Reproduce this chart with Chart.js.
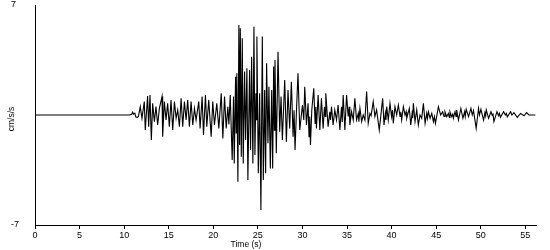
<!DOCTYPE html>
<html>
<head>
<meta charset="utf-8">
<script src="https://cdn.jsdelivr.net/npm/chart.js@4"></script>
<style>
  body { margin: 0; background: #fff; }
  #wrap { width: 550px; height: 250px; }
</style>
</head>
<body>
<div id="wrap"><canvas id="quake" width="550" height="250"></canvas></div>
<script>
// accelerogram (time in s, acceleration in cm/s/s)
const times = [
  0, 10.6, 10.85, 10.95, 11.05, 11.2, 11.3, 11.45, 11.6, 11.81, 12.0, 12.26, 12.37, 12.63, 12.75, 12.9,
  13.05, 13.2, 13.39, 13.57, 13.76, 13.95, 14.25, 14.32, 14.51, 14.7, 14.88, 15.07, 15.26, 15.45, 15.64, 15.83,
  16.01, 16.2, 16.39, 16.57, 16.76, 16.95, 17.13, 17.32, 17.51, 17.7, 17.89, 18.07, 18.37, 18.52, 18.75, 18.9,
  19.12, 19.27, 19.49, 19.76, 19.94, 20.13, 20.39, 20.62, 20.89, 21.07, 21.26, 21.45, 21.63, 21.75, 21.9, 22.12,
  22.27, 22.35, 22.5, 22.57, 22.64, 22.76, 22.87, 22.95, 23.03, 23.14, 23.25, 23.36, 23.51, 23.62, 23.77, 23.88,
  24.07, 24.18, 24.3, 24.44, 24.56, 24.67, 24.78, 24.84, 24.89, 25.05, 25.2, 25.34, 25.5, 25.61, 25.76, 25.87,
  25.98, 26.13, 26.24, 26.4, 26.55, 26.66, 26.77, 26.85, 26.92, 27.07, 27.26, 27.45, 27.6, 27.75, 28.01, 28.2,
  28.38, 28.57, 28.76, 28.95, 29.06, 29.17, 29.32, 29.5, 29.7, 30.0, 30.15, 30.26, 30.45, 30.63, 30.74, 30.82,
  30.9, 31.05, 31.27, 31.42, 31.5, 31.57, 31.76, 31.95, 32.13, 32.32, 32.47, 32.55, 32.62, 32.88, 33.07, 33.15,
  33.26, 33.44, 33.63, 33.82, 34.0, 34.2, 34.38, 34.46, 34.57, 34.76, 34.95, 35.13, 35.25, 35.32, 35.51, 35.7,
  35.88, 36.07, 36.26, 36.33, 36.45, 36.64, 36.82, 37.01, 37.2, 37.38, 37.57, 37.7, 37.94, 38.13, 38.32, 38.62,
  39.0, 39.15, 39.3, 39.37, 39.45, 39.63, 39.82, 40.0, 40.1, 40.19, 40.38, 40.57, 40.76, 40.95, 41.03, 41.13,
  41.32, 41.51, 41.63, 41.7, 41.99, 42.15, 42.3, 42.37, 42.44, 42.63, 42.82, 43.0, 43.19, 43.38, 43.57, 43.76,
  43.94, 44.02, 44.13, 44.32, 44.51, 44.69, 44.8, 44.92, 45.25, 45.5, 45.73, 45.88, 45.99, 46.18, 46.37, 46.48,
  46.55, 46.74, 46.86, 46.93, 47.12, 47.23, 47.3, 47.5, 47.77, 48.0, 48.19, 48.26, 48.37, 48.63, 48.9, 49.05,
  49.19, 49.49, 49.75, 49.86, 50.02, 50.32, 50.47, 50.55, 50.62, 50.88, 51.15, 51.3, 51.37, 51.48, 51.82, 52.0,
  52.1, 52.21, 52.57, 52.76, 52.87, 52.98, 53.35, 53.5, 53.72, 54.1, 54.47, 54.85, 55.14, 55.4, 56.13
];
const accel = [
  0, 0, 0.05, 0.18, 0.05, 0.12, -0.12, -0.15, -0.1, 0.53, -0.21, 0.85, -0.96, 1.21, -0.74, 1.27,
  -1.59, 0.74, -0.42, 0.53, -0.64, 0.42, 1.17, -1.38, 0.85, -0.32, 0.74, -0.74, 0.96, -0.96, 0.85, -0.21,
  0.32, -0.74, 1.06, -0.74, 0.85, -0.32, 0.96, -0.74, 0.85, -0.64, 0.42, -0.32, 0.85, -0.85, 1.17, -1.27,
  1.27, -0.74, 0.96, -1.38, 0.85, -0.64, 0.74, -0.85, 1.38, -1.49, 1.17, -0.85, 0.53, -0.6, 1.27, -2.87,
  1.17, -3.08, 2.44, -1.15, 2.66, -4.25, 5.73, -1.91, 5.52, -2.66, 4.88, -3.08, 2.76, -1.59, 2.97, -4.14,
  2.87, -2.23, 3.71, -3.08, 5.62, -2.55, 1.38, -0.3, 4.99, -3.71, 1.38, -6.05, 4.99, -4.14, 1.59, -3.71,
  3.29, -1.8, 1.8, -3.4, 1.59, -3.4, 3.08, -0.96, 3.5, -2.44, 4.03, -1.06, 1.17, -1.59, 2.23, -1.7,
  1.59, -0.85, 2.12, -1.38, 0.3, -2.23, 0.1, 2.66, -0.96, 0.64, -0.32, 1.8, -0.64, 0.74, -1.38, -0.1,
  -1.91, 0.32, 1.7, -0.53, 0.53, -0.85, 1.27, -0.96, 1.06, -0.85, 0.53, -0.1, 1.38, -0.74, 0.21, -0.32,
  0.53, -0.64, 0.32, -0.32, 0.64, -0.96, 0.53, -0.45, 1.27, -0.96, 1.27, -0.1, 0.53, -0.64, 0.21, -0.32,
  1.06, -0.32, 0.1, -0.42, 0.42, -0.42, 0, -0.32, 1.49, -0.53, 0.1, -0.05, 0.85, -0.1, 0.32, -0.96,
  1.06, -0.64, 0.1, -0.32, 0.53, -0.32, 0.74, -0.1, 0.32, -0.53, 0.53, 0, 0.64, -0.1, 0.21, -0.32,
  0.53, 0, 0.21, -0.21, 0.42, -0.64, 0.1, -0.2, 0.74, -0.42, 0.32, -0.64, 0, -0.21, 0.74, -0.53,
  0.1, -0.21, 0.21, -0.21, 0.1, -0.42, -0.1, -0.53, 0.53, 0, 0.2, -0.1, 0.21, -0.1, 0.1, -0.15,
  0.21, -0.1, 0.05, -0.21, 0.21, -0.1, 0.32, -0.32, 0.42, -0.21, 0.21, -0.1, 0.36, -0.1, 0.42, 0,
  0.28, -0.85, 0.42, 0, 0.36, -0.32, 0.15, -0.05, 0.32, -0.21, 0.21, -0.05, 0.1, -0.42, 0.21, -0.05,
  0.1, -0.15, 0.21, 0, 0.1, -0.12, 0.21, 0, 0.15, -0.15, 0.1, -0.05, 0.15, 0, 0
];
const xTicks = [0, 5, 10, 15, 20, 25, 30, 35, 40, 45, 50, 55];
const yTicks = [-7, 7];

const fontFamily = '"Liberation Sans", Arial, sans-serif';

// axis titles sit where the original put them, so draw them by hand
const axisTitles = {
  id: 'axisTitles',
  afterDraw(chart) {
    const ctx = chart.ctx;
    ctx.save();
    ctx.fillStyle = '#000';
    ctx.font = '8.5px ' + fontFamily;
    ctx.textAlign = 'center';
    ctx.textBaseline = 'middle';
    ctx.fillText('Time (s)', 246, 245);
    ctx.translate(12, 119);
    ctx.rotate(-Math.PI / 2);
    ctx.fillText('cm/s/s', 0, 0);
    ctx.restore();
  }
};

const points = times.map((t, i) => ({ x: t, y: accel[i] }));

new Chart(document.getElementById('quake'), {
  type: 'line',
  data: {
    datasets: [{
      data: points,
      borderColor: '#000',
      borderWidth: 1.1,
      pointRadius: 0,
      tension: 0,
      fill: false
    }]
  },
  options: {
    responsive: false,
    animation: false,
    layout: { padding: { left: 11, right: 14, top: 5, bottom: 0 } },
    plugins: {
      legend: { display: false },
      tooltip: { enabled: false }
    },
    scales: {
      x: {
        type: 'linear',
        min: 0,
        max: 56.2,
        afterBuildTicks: scale => { scale.ticks = xTicks.map(v => ({ value: v })); },
        afterFit: scale => { scale.height = 25; scale.paddingRight = 0; scale.paddingLeft = 0; },
        ticks: {
          color: '#000',
          font: { size: 9, family: fontFamily },
          maxRotation: 0,
          padding: 1
        },
        grid: { drawOnChartArea: false, color: '#000', tickLength: 4 },
        border: { display: true, color: '#000' }
      },
      y: {
        min: -7,
        max: 7,
        afterBuildTicks: scale => { scale.ticks = yTicks.map(v => ({ value: v })); },
        afterFit: scale => { scale.width = 24; scale.paddingTop = 0; scale.paddingBottom = 0; },
        ticks: {
          color: '#000',
          font: { size: 9, family: fontFamily },
          crossAlign: 'far'
        },
        grid: { display: false },
        border: { display: true, color: '#000' }
      }
    }
  },
  plugins: [axisTitles]
});
</script>
</body>
</html>
